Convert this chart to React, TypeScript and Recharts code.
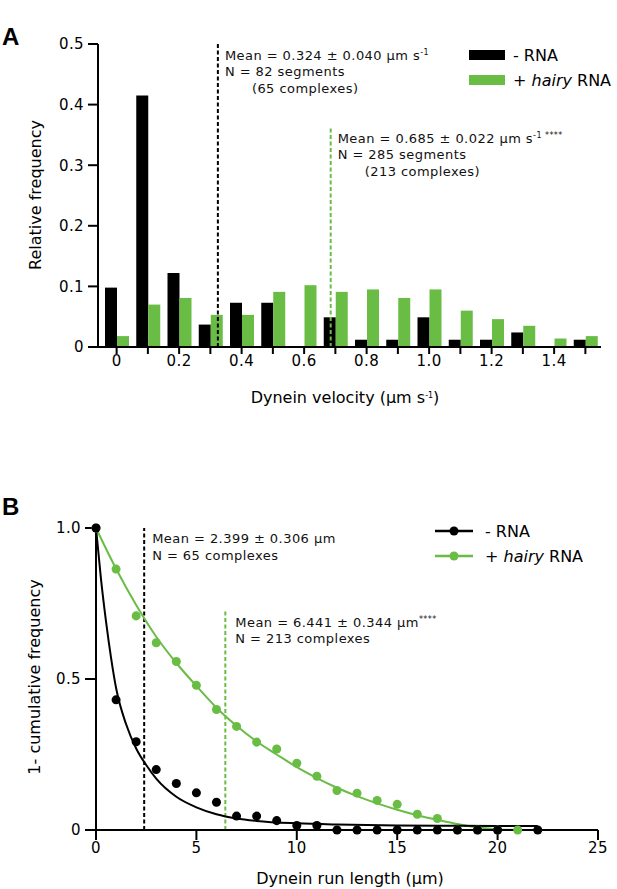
import { ComposedChart, Bar, Line, Scatter, XAxis, YAxis, ReferenceLine, Label } from 'recharts';

const FONT = '"DejaVu Sans", Arial, sans-serif';
const GREEN = '#69bd45';

// panel A: velocity histogram
const velocityBins = [0, 0.1, 0.2, 0.3, 0.4, 0.5, 0.6, 0.7, 0.8, 0.9, 1.0, 1.1, 1.2, 1.3, 1.4, 1.5];
const velocityTickLabels = ['0', '', '0.2', '', '0.4', '', '0.6', '', '0.8', '', '1.0', '', '1.2', '', '1.4', ''];
const noRnaFreq = [0.098, 0.415, 0.122, 0.037, 0.073, 0.073, 0, 0.049, 0.012, 0.012, 0.049, 0.012, 0.012, 0.024, 0, 0.012];
const hairyFreq = [0.018, 0.070, 0.081, 0.053, 0.053, 0.091, 0.102, 0.091, 0.095, 0.081, 0.095, 0.060, 0.046, 0.035, 0.014, 0.018];
const freqTicks = [0, 0.1, 0.2, 0.3, 0.4, 0.5];
const freqTickLabels = ['0', '0.1', '0.2', '0.3', '0.4', '0.5'];
const noRnaMeanVel = 0.324;
const hairyMeanVel = 0.685;
const hairyMeanVelTop = 0.362;

// panel B: run length
const runLength = [0, 1, 2, 3, 4, 5, 6, 7, 8, 9, 10, 11, 12, 13, 14, 15, 16, 17, 18, 19, 20, 21, 22];
const noRnaCum = [1, 0.431, 0.292, 0.2, 0.154, 0.123, 0.092, 0.046, 0.046, 0.031, 0.015, 0.015, 0, 0, 0, 0, 0, 0, 0, 0, 0, null, 0];
const hairyCum = [1, 0.864, 0.709, 0.62, 0.558, 0.479, 0.399, 0.343, 0.291, 0.268, 0.221, 0.178, 0.131, 0.122, 0.098, 0.085, 0.052, 0.038, 0, 0, 0, 0, null];
const noRnaFitX = [0, 0.25, 0.5, 0.75, 1, 1.5, 2, 2.5, 3, 4, 5, 6, 7, 8, 10, 12, 15, 18, 22];
const noRnaFitY = [1, 0.83, 0.69, 0.57, 0.47, 0.35, 0.27, 0.215, 0.17, 0.11, 0.075, 0.052, 0.038, 0.03, 0.022, 0.018, 0.015, 0.014, 0.013];
const hairyFitX = [0, 1, 2, 3, 4, 5, 6, 7, 8, 9, 10, 11, 12, 13, 14, 15, 16, 17, 18, 19, 20, 21];
const hairyFitY = [1, 0.865, 0.745, 0.64, 0.553, 0.477, 0.405, 0.345, 0.293, 0.25, 0.208, 0.172, 0.14, 0.112, 0.088, 0.067, 0.049, 0.034, 0.02, 0.009, 0.002, 0];
const runTicks = [0, 5, 10, 15, 20, 25];
const cumTicks = [0, 0.5, 1];
const cumTickLabels = ['0', '0.5', '1.0'];
const noRnaMeanRun = 2.399;
const hairyMeanRun = 6.441;
const hairyMeanRunTop = 0.729;

const histData = velocityBins.map((b, i) => ({ bin: b, noRna: noRnaFreq[i], hairy: hairyFreq[i] }));
const toPoints = (xs: number[], ys: (number | null)[]) =>
  xs.map((x, i) => ({ x, y: ys[i] })).filter((p) => p.y !== null && p.y !== undefined);

const noRnaPts = toPoints(runLength, noRnaCum);
const hairyPts = toPoints(runLength, hairyCum);
const noRnaFit = toPoints(noRnaFitX, noRnaFitY);
const hairyFit = toPoints(hairyFitX, hairyFitY);

const tickStyle = { fill: '#000', fontSize: 15, fontFamily: FONT, letterSpacing: 0.4 };
const annStyle = { fontSize: 13, fontFamily: FONT, letterSpacing: 0.45, fill: '#111' };

const sup = (s: string) => (
  <tspan fontSize={8} dy={-5}>{s}</tspan>
);

// mean annotation next to a dashed line
const meanLabel = (lines: any[], dx: number, dy: number, indent: number[]) => (props: any) => {
  const vb = props.viewBox || {};
  return (
    <g>
      {lines.map((ln, i) => (
        <text key={i} x={vb.x + dx + (indent[i] || 0)} y={vb.y + dy + i * 16.5} {...annStyle}>
          {ln}
        </text>
      ))}
    </g>
  );
};

const xTitle = (content: any, cx: number, y: number) => () => (
  <text x={cx} y={y} textAnchor="middle" fontSize={16} fontFamily={FONT} fill="#000">{content}</text>
);
const yTitle = (text: string, cx: number, cy: number) => () => (
  <text x={cx} y={cy} dy="0.35em" textAnchor="middle" fontSize={16} fontFamily={FONT} fill="#000"
    transform={`rotate(-90 ${cx} ${cy})`}>{text}</text>
);

const axisLine = { stroke: '#000', strokeWidth: 2 };

export default function App() {
  return (
    <div style={{ position: 'absolute', left: 0, top: 0, width: 617, height: 889, background: '#fff' }}>
      <div style={{ position: 'absolute', left: 0, top: 0 }}>
        <ComposedChart width={617} height={420} data={histData} barSize={12} barGap={0}
          margin={{ top: 44, right: 16, left: 0, bottom: 43 }}>
          <XAxis xAxisId="cat" dataKey="bin" type="category" interval={0} padding={{ left: 3, right: 0 }}
            tickFormatter={(_v: any, i: number) => velocityTickLabels[i]} tick={tickStyle}
            axisLine={axisLine} tickLine={axisLine} tickSize={7} tickMargin={1} height={30}>
            <Label content={xTitle(<>Dynein velocity (µm s{sup('-1')}<tspan dy={5}>)</tspan></>, 345, 403)} />
          </XAxis>
          <XAxis xAxisId="num" dataKey="bin" type="number" domain={[-0.05, 1.55]} allowDataOverflow
            padding={{ left: 3, right: 0 }} hide />
          <YAxis domain={[0, 0.5]} ticks={freqTicks} tickFormatter={(_v: any, i: number) => freqTickLabels[i]}
            tick={tickStyle} axisLine={axisLine} tickLine={axisLine} tickSize={10} tickMargin={4} width={98}
            interval={0}>
            <Label content={yTitle('Relative frequency', 35, 195)} />
          </YAxis>
          <Bar xAxisId="cat" dataKey="noRna" fill="#000" isAnimationActive={false} />
          <Bar xAxisId="cat" dataKey="hairy" fill={GREEN} isAnimationActive={false} />
          <ReferenceLine xAxisId="num" x={noRnaMeanVel} stroke="#000" strokeWidth={2} strokeDasharray="4 2.5"
            label={meanLabel([
              <>Mean = 0.324 ± 0.040 µm s{sup('-1')}</>,
              'N = 82 segments',
              '(65 complexes)',
            ], 7, 15.5, [0, 0, 27])} />
          <ReferenceLine xAxisId="num" stroke={GREEN} strokeWidth={2} strokeDasharray="4 2.5"
            segment={[{ x: hairyMeanVel, y: 0 }, { x: hairyMeanVel, y: hairyMeanVelTop }]}
            label={meanLabel([
              <>Mean = 0.685 ± 0.022 µm s{sup('-1 ****')}</>,
              'N = 285 segments',
              '(213 complexes)',
            ], 7, 15, [0, 0, 27])} />
        </ComposedChart>
      </div>

      <div style={{ position: 'absolute', left: 0, top: 460 }}>
        <ComposedChart width={617} height={429} margin={{ top: 68, right: 19, left: 0, bottom: 29 }}>
          <XAxis dataKey="x" type="number" domain={[0, 25]} ticks={runTicks} interval={0}
            tick={tickStyle} axisLine={axisLine} tickLine={axisLine} tickSize={10} tickMargin={2} height={30}>
            <Label content={xTitle('Dynein run length (µm)', 350, 424)} />
          </XAxis>
          <YAxis dataKey="y" type="number" domain={[0, 1]} ticks={cumTicks} interval={0}
            tickFormatter={(_v: any, i: number) => cumTickLabels[i]}
            tick={tickStyle} axisLine={axisLine} tickLine={axisLine} tickSize={11} tickMargin={4} width={96}>
            <Label content={yTitle('1- cumulative frequency', 34, 217)} />
          </YAxis>
          <ReferenceLine x={noRnaMeanRun} stroke="#000" strokeWidth={2} strokeDasharray="4 2.5"
            label={meanLabel(['Mean = 2.399 ± 0.306 µm', 'N = 65 complexes'], 8, 15, [0, 0])} />
          <ReferenceLine stroke={GREEN} strokeWidth={2} strokeDasharray="4 2.5"
            segment={[{ x: hairyMeanRun, y: 0 }, { x: hairyMeanRun, y: hairyMeanRunTop }]}
            label={meanLabel([<>Mean = 6.441 ± 0.344 µm{sup('****')}</>, 'N = 213 complexes'], 10, 17, [0, 0])} />
          <Line data={hairyFit} dataKey="y" type="monotone" stroke={GREEN} strokeWidth={2} dot={false}
            isAnimationActive={false} />
          <Scatter data={hairyPts} dataKey="y" fill={GREEN} isAnimationActive={false} />
          <Line data={noRnaFit} dataKey="y" type="monotone" stroke="#000" strokeWidth={2} dot={false}
            isAnimationActive={false} />
          <Scatter data={noRnaPts} dataKey="y" fill="#000" isAnimationActive={false} />
        </ComposedChart>
      </div>

      <svg width={617} height={889} style={{ position: 'absolute', left: 0, top: 0, pointerEvents: 'none' }}
        fontFamily={FONT}>
        <text x={2} y={45} fontSize={24} fontWeight="bold" fontFamily="Arial, Liberation Sans, sans-serif">A</text>
        <text x={2} y={515} fontSize={24} fontWeight="bold" fontFamily="Arial, Liberation Sans, sans-serif">B</text>

        <rect x={469} y={50} width={36} height={10} fill="#000" />
        <text x={513} y={61} fontSize={16}>- RNA</text>
        <rect x={469} y={75} width={36} height={10} fill={GREEN} />
        <text x={513} y={86} fontSize={16}>+ <tspan fontStyle="italic">hairy</tspan> RNA</text>

        <line x1={435} x2={473} y1={531} y2={531} stroke="#000" strokeWidth={2.5} />
        <circle cx={454} cy={531} r={4.5} fill="#000" />
        <text x={485} y={537} fontSize={16}>- RNA</text>
        <line x1={435} x2={473} y1={556} y2={556} stroke={GREEN} strokeWidth={2.5} />
        <circle cx={454} cy={556} r={4.5} fill={GREEN} />
        <text x={485} y={562} fontSize={16}>+ <tspan fontStyle="italic">hairy</tspan> RNA</text>
      </svg>
    </div>
  );
}
